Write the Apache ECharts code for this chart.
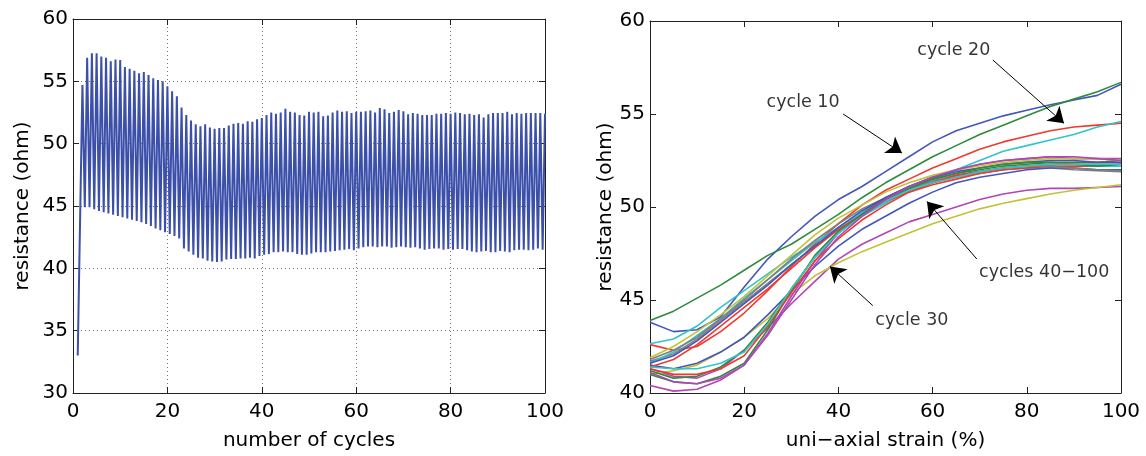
<!DOCTYPE html>
<html><head><meta charset="utf-8">
<script src="https://cdn.jsdelivr.net/npm/echarts@6/dist/echarts.min.js"></script>
<style>html,body{margin:0;padding:0;background:#fff}#c{width:1146px;height:456px}</style>
</head><body><div id="c"></div><script>
// ---------- Left panel: resistance vs number of cycles ----------
const startCycle = 1;
const startValue = 33.0;
// peak resistance of cycles 2..100
const peakValues = [
  54.7,56.9,57.25,57.25,57.0,56.9,56.6,56.75,56.7,56.15,
  56.0,55.85,55.65,55.75,55.5,55.25,55.1,55.0,54.6,54.2,
  53.8,52.9,52.3,51.85,51.55,51.4,51.55,51.3,51.2,51.25,
  51.25,51.45,51.6,51.65,51.6,51.8,51.75,51.95,52.05,52.3,
  52.5,52.4,52.5,52.8,52.55,52.5,52.3,52.25,52.55,52.5,
  52.55,52.2,52.25,52.5,52.65,52.55,52.6,52.45,52.55,52.55,
  52.6,52.65,52.5,52.85,52.75,52.45,52.55,52.7,52.6,52.35,
  52.45,52.4,52.3,52.3,52.3,52.4,52.4,52.45,52.4,52.5,
  52.45,52.35,52.4,52.3,52.35,52.1,52.35,52.45,52.45,52.45,
  52.55,52.35,52.45,52.4,52.45,52.45,52.45,52.45,52.4
];
// trough resistance at cycles 2.5..99.5
const troughValues = [
  44.9,44.9,44.75,44.6,44.5,44.4,44.3,44.2,44.1,44.0,
  43.9,43.8,43.7,43.55,43.4,43.2,43.05,42.9,42.75,42.6,
  42.4,41.6,41.35,41.1,40.85,40.8,40.6,40.55,40.5,40.55,
  40.7,40.75,40.75,40.8,40.8,40.85,40.8,41.0,41.1,41.15,
  41.3,41.3,41.35,41.3,41.3,41.15,41.1,41.1,41.2,41.3,
  41.3,41.3,41.35,41.4,41.45,41.5,41.55,41.45,41.6,41.7,
  41.75,41.75,41.7,41.75,41.75,41.65,41.7,41.75,41.7,41.65,
  41.7,41.6,41.5,41.55,41.6,41.6,41.5,41.55,41.5,41.55,
  41.55,41.45,41.35,41.3,41.35,41.4,41.3,41.3,41.4,41.35,
  41.3,41.45,41.5,41.5,41.45,41.5,41.6,41.5
];
const leftXTicks = [0,20,40,60,80,100];
const leftYTicks = [30,35,40,45,50,55,60];

// ---------- Right panel: resistance vs uni-axial strain ----------
const strain = [0,5,10,15,20,25,30,35,40,45,50,55,60,65,70,75,80,85,90,95,100];
const cycle10 = [43.8,43.3,43.4,44.1,45.7,47.2,48.4,49.5,50.4,51.1,51.9,52.7,53.5,54.1,54.5,54.9,55.2,55.5,55.75,56.0,56.6];
const cycle15 = [43.9,44.4,45.1,45.8,46.6,47.4,48.0,48.8,49.6,50.5,51.3,52.0,52.7,53.3,53.9,54.4,54.9,55.4,55.8,56.2,56.7];
const cycle20 = [42.6,42.3,42.5,43.3,44.3,45.5,46.8,48.0,49.1,50.1,50.9,51.5,52.1,52.6,53.1,53.5,53.8,54.1,54.3,54.4,54.5];
const cycle25 = [42.65,42.9,43.6,44.6,45.5,46.4,47.3,48.1,48.8,49.5,50.2,50.9,51.5,52.0,52.5,53.0,53.3,53.6,53.9,54.3,54.6];
const cycle30m = [41.3,40.9,40.8,41.3,42.3,43.5,44.8,46.0,47.2,48.0,48.6,49.2,49.6,50.0,50.4,50.7,50.9,51.0,51.0,51.05,51.1];
const cycle35 = [41.0,41.2,41.5,42.2,43.0,44.0,45.3,46.3,47.0,47.6,48.1,48.6,49.1,49.5,49.9,50.2,50.45,50.7,50.9,51.05,51.2];
const cycle40 = [41.7,42.1,42.9,43.9,44.9,45.9,46.9,47.9,48.8,49.6,50.3,50.9,51.3,51.6,51.8,52.0,52.1,52.1,52.0,51.95,51.9];
const cycle45 = [41.5,41.3,41.6,42.2,43.0,44.2,45.5,46.8,47.9,48.8,49.5,50.2,50.8,51.3,51.6,51.8,52.0,52.1,52.1,52.0,52.0];
const cycle50 = [41.0,40.6,40.5,40.9,41.6,43.4,45.5,47.4,48.7,49.7,50.5,51.1,51.5,51.8,52.0,52.2,52.3,52.4,52.4,52.4,52.5];
const cycle55 = [41.4,41.8,42.6,43.6,44.6,45.6,46.7,47.8,48.8,49.6,50.3,50.8,51.2,51.5,51.8,52.0,52.1,52.2,52.2,52.2,52.3];
const cycle60 = [41.6,42.2,43.1,44.0,45.1,46.1,47.1,48.1,48.9,49.7,50.4,50.9,51.4,51.7,51.9,52.1,52.2,52.3,52.3,52.2,52.2];
const cycle65 = [40.4,40.1,40.2,40.7,41.5,43.2,45.2,47.1,48.6,49.6,50.5,51.1,51.6,52.0,52.3,52.5,52.6,52.7,52.6,52.6,52.6];
const cycle70 = [41.9,42.5,43.3,44.2,45.2,46.3,47.4,48.5,49.4,50.1,50.8,51.3,51.7,52.0,52.2,52.4,52.5,52.6,52.6,52.6,52.5];
const cycle75 = [41.8,42.3,43.0,44.0,45.0,46.1,47.2,48.2,49.1,49.9,50.5,51.0,51.4,51.7,51.9,52.1,52.2,52.2,52.1,52.0,51.95];
const cycle80 = [41.6,42.0,42.8,43.8,44.8,45.8,46.9,47.9,48.9,49.8,50.5,51.1,51.6,51.9,52.1,52.3,52.4,52.5,52.5,52.4,52.4];
const cycle85 = [41.2,40.8,40.9,41.4,42.3,43.8,45.6,47.3,48.6,49.6,50.4,51.0,51.5,51.8,52.1,52.3,52.4,52.4,52.3,52.2,52.3];
const cycle90 = [41.3,41.0,41.0,41.3,42.0,43.6,45.4,47.1,48.3,49.3,50.1,50.8,51.3,51.7,51.9,52.1,52.2,52.3,52.3,52.3,52.3];
const cycle95 = [41.4,41.3,41.3,41.6,42.2,43.7,45.6,47.3,48.6,49.5,50.3,50.9,51.3,51.6,51.9,52.1,52.2,52.3,52.3,52.3,52.3];
const cycle100 = [41.1,40.6,40.5,40.8,41.5,43.1,45.0,46.9,48.4,49.5,50.4,51.1,51.6,52.0,52.3,52.5,52.6,52.7,52.7,52.6,52.5];
const curveNames = ['10','15','20','25','30','35','40','45','50','55','60','65','70','75','80','85','90','95','100'];
const curves = [cycle10,cycle15,cycle20,cycle25,cycle30m,cycle35,cycle40,cycle45,cycle50,cycle55,cycle60,cycle65,cycle70,cycle75,cycle80,cycle85,cycle90,cycle95,cycle100];

// annotations (data coordinates of right panel)
const noteTexts = ['cycle 10','cycle 20','cycles 40\u2212100','cycle 30'];
const notePos = [[32.5,55.6],[64.5,58.4],[83.7,46.5],[55.6,43.9]];
const arrowFrom = [[41.0,55.0],[72.8,57.9],[69.4,47.2],[47.3,44.7]];
const arrowTo = [[53.5,52.9],[87.9,54.5],[58.8,50.3],[38.2,46.8]];

// ---------- build ----------
const FONT = 'DejaVu Sans';
const palette = ['#4455bb','#2e8b3e','#ee3a2e','#33c4c8','#b046b4','#c2c23a','#7f7f7f'];

const leftData = [[startCycle, startValue]];
for (let i = 0; i < peakValues.length; i++) {
  leftData.push([2 + i, peakValues[i]]);
  if (i < troughValues.length) leftData.push([2.5 + i, troughValues[i]]);
}

const frameColor = '#222';
function mainAxis(gridIndex, pos, min, max, interval, name, gap, grid) {
  return {
    type: 'value', gridIndex, position: pos, min, max, interval,
    name, nameLocation: 'middle', nameGap: gap,
    nameTextStyle: {fontFamily: FONT, fontSize: 20, color: '#000'},
    axisLine: {show: true, onZero: false, lineStyle: {color: frameColor, width: 1}},
    axisTick: {show: true, inside: true, length: 6, lineStyle: {color: frameColor}},
    axisLabel: {show: true, fontFamily: FONT, fontSize: 20, color: '#000', margin: (pos === 'bottom') ? 9 : 5},
    splitLine: {show: grid, lineStyle: {type: [1, 3], color: '#777', width: 1}}
  };
}
function frameAxis(gridIndex, pos, min, max, interval) {
  return {
    type: 'value', gridIndex, position: pos, min, max, interval,
    axisLine: {show: true, onZero: false, lineStyle: {color: frameColor, width: 1}},
    axisTick: {show: true, inside: true, length: 6, lineStyle: {color: frameColor}},
    axisLabel: {show: false}, splitLine: {show: false}
  };
}

const series = [{
  type: 'line', xAxisIndex: 0, yAxisIndex: 0, data: leftData,
  showSymbol: false, symbol: 'none', lineStyle: {color: '#3c50aa', width: 2},
  itemStyle: {color: '#3c50aa'}
}];
curves.forEach((vals, k) => {
  series.push({
    type: 'line', name: 'cycle ' + curveNames[k], xAxisIndex: 2, yAxisIndex: 2,
    data: strain.map((s, j) => [s, vals[j]]),
    symbol: 'none', lineStyle: {color: palette[k % 7], width: 1.6},
    itemStyle: {color: palette[k % 7]}
  });
});
series.push({
  type: 'lines', coordinateSystem: 'cartesian2d', xAxisIndex: 2, yAxisIndex: 2,
  symbol: ['none', 'arrow'], symbolSize: [11, 15],
  lineStyle: {color: '#000', width: 1, opacity: 1, curveness: 0},
  data: arrowFrom.map((f, i) => ({coords: [f, arrowTo[i]]})),
  silent: true, z: 5
});
series.push({
  type: 'scatter', xAxisIndex: 2, yAxisIndex: 2, symbolSize: 1,
  itemStyle: {color: 'rgba(0,0,0,0)'},
  label: {show: true, position: 'inside', formatter: '{b}', fontFamily: FONT, fontSize: 17.5, color: '#000'},
  data: noteTexts.map((t, i) => ({name: t, value: notePos[i]})),
  silent: true, z: 6
});

const option = {
  animation: false,
  backgroundColor: '#fff',
  grid: [
    {left: 73, top: 19, width: 472, height: 375},
    {left: 650, top: 21, width: 471, height: 375}
  ],
  xAxis: [
    mainAxis(0, 'bottom', leftXTicks[0], leftXTicks[leftXTicks.length-1], leftXTicks[1]-leftXTicks[0], 'number of cycles', 38, true),
    frameAxis(0, 'top', 0, 100, 20),
    mainAxis(1, 'bottom', 0, 100, 20, 'uni\u2212axial strain (%)', 38, false),
    frameAxis(1, 'top', 0, 100, 20)
  ],
  yAxis: [
    mainAxis(0, 'left', leftYTicks[0], leftYTicks[leftYTicks.length-1], leftYTicks[1]-leftYTicks[0], 'resistance (ohm)', 40, true),
    frameAxis(0, 'right', 30, 60, 5),
    mainAxis(1, 'left', 40, 60, 5, 'resistance (ohm)', 23, false),
    frameAxis(1, 'right', 40, 60, 5)
  ],
  series
};
const chart = echarts.init(document.getElementById('c'), null, {renderer: 'canvas'});
chart.setOption(option);
</script></body></html>
